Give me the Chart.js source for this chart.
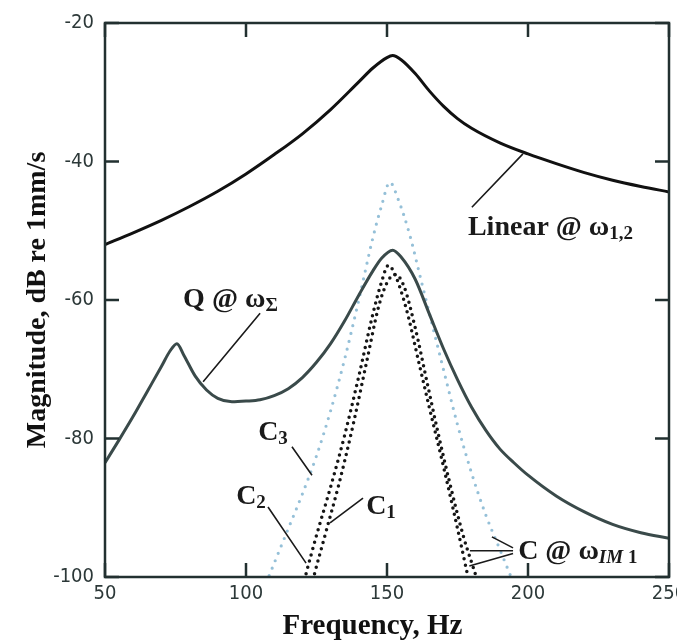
<!DOCTYPE html>
<html>
<head>
<meta charset="utf-8">
<script src="https://cdn.jsdelivr.net/npm/chart.js@4.4.1/dist/chart.umd.min.js"></script>
<style>
  html, body { margin: 0; padding: 0; background: #fff; }
</style>
</head>
<body>
<canvas id="myChart" width="677" height="640"></canvas>
<script>
// axis ticks
var freqTicks = [50, 100, 150, 200, 250];
var dbTicks = [-100, -80, -60, -40, -20];

// Linear @ w1,2
var linFreq = [50, 60, 70, 80, 90, 100, 110, 120, 130, 140, 145, 150, 152, 155, 160, 165, 170, 175, 180, 190, 200, 210, 220, 230, 240, 250];
var linDb   = [-52, -50.3, -48.5, -46.5, -44.3, -41.8, -39, -36, -32.5, -28.5, -26.5, -25, -24.7, -25.3, -27.3, -29.8, -32, -33.8, -35.2, -37.3, -38.9, -40.3, -41.6, -42.7, -43.6, -44.4];

// Q @ wSigma
var qFreq = [50, 55, 60, 65, 70, 73, 75.5, 78, 82, 86, 90, 95, 100, 105, 110, 115, 120, 125, 130, 135, 140, 145, 148, 152, 155, 160, 165, 170, 175, 180, 185, 190, 195, 200, 210, 220, 230, 240, 250];
var qDb   = [-83.5, -80.2, -76.8, -73.2, -69.6, -67.4, -66.3, -68, -71, -73, -74.2, -74.7, -74.6, -74.4, -73.8, -72.8, -71.2, -69, -66.3, -63, -59.3, -55.8, -54, -52.8, -53.8, -57, -62, -67, -71.5, -75.5, -78.8, -81.5, -83.5, -85.3, -88.3, -90.6, -92.4, -93.6, -94.4];

// C3
var c3Freq = [105, 110, 115, 120, 125, 130, 135, 140, 145, 148, 151, 154, 158, 162, 166, 170, 175, 180, 185, 190, 195, 198];
var c3Db   = [-103, -98, -93, -88, -82.5, -76, -68.5, -60, -51, -46.5, -43, -45.5, -50.5, -57, -63.5, -70, -78, -85, -91, -96, -101, -104];

// C2
var c2Freq = [118, 121, 125, 130, 135, 140, 145, 148, 150.5, 153, 157, 161, 165, 170, 175, 179, 182];
var c2Db   = [-105, -100, -94, -87, -79.5, -71, -62, -57.5, -55, -56.5, -61.5, -68.5, -75.5, -84, -93, -100.5, -106];

// C1
var c1Freq = [121, 124, 128, 133, 138, 143, 147, 150, 153, 156, 160, 164, 168, 172, 177, 182, 185];
var c1Db   = [-105, -100, -94, -86.5, -78, -68.5, -61, -57.5, -56.3, -58, -64, -71.5, -79, -86, -94, -100.5, -105];

function pts(xs, ys) {
  return xs.map(function (x, i) { return {x: x, y: ys[i]}; });
}

var serif = '"Liberation Serif", "Times New Roman", serif';
var sans = '"DejaVu Sans Condensed", "DejaVu Sans", sans-serif';
var frameColor = '#223030';

// labels and leader lines, in data units
var notes = [
  {parts: [['Linear @ ω', 0], ['1,2', 1]], x: 178.7, y: -49.6},
  {parts: [['Q @ ω', 0], ['Σ', 1]], x: 77.7, y: -60.0},
  {parts: [['C', 0], ['3', 1]], x: 104.3, y: -79.2},
  {parts: [['C', 0], ['2', 1]], x: 96.5, y: -88.4},
  {parts: [['C', 0], ['1', 1]], x: 142.6, y: -89.9},
  {parts: [['C @ ω', 0], ['IM', 2], [' 1', 1]], x: 196.5, y: -96.4}
];
var leaders = [
  [180.1, -46.6, 198.2, -38.9],
  [105, -61.9, 84.8, -71.8],
  [116.3, -81.2, 123.4, -85.3],
  [107.8, -89.9, 121.3, -98],
  [141.5, -88.6, 129.8, -92.2],
  [194.7, -96.2, 179.4, -96.2],
  [194.7, -96.6, 179.2, -98.4],
  [194.7, -95.8, 187.2, -94.2]
];

var framePlugin = {
  id: 'frame',
  afterDatasetsDraw: function (chart) {
    var ctx = chart.ctx, a = chart.chartArea;
    var xs = chart.scales.x, ys = chart.scales.y;
    ctx.save();
    ctx.strokeStyle = frameColor;
    ctx.lineWidth = 2.5;
    ctx.strokeRect(a.left, a.top, a.right - a.left, a.bottom - a.top);
    // inward ticks on all four sides
    ctx.beginPath();
    xs.ticks.forEach(function (t) {
      var px = xs.getPixelForValue(t.value);
      ctx.moveTo(px, a.bottom); ctx.lineTo(px, a.bottom - 14);
      ctx.moveTo(px, a.top); ctx.lineTo(px, a.top + 14);
    });
    ys.ticks.forEach(function (t) {
      var py = ys.getPixelForValue(t.value);
      ctx.moveTo(a.left, py); ctx.lineTo(a.left + 14, py);
      ctx.moveTo(a.right, py); ctx.lineTo(a.right - 14, py);
    });
    ctx.stroke();

    // leader lines
    ctx.strokeStyle = '#1a1a1a';
    ctx.lineWidth = 1.6;
    ctx.beginPath();
    leaders.forEach(function (l) {
      ctx.moveTo(xs.getPixelForValue(l[0]), ys.getPixelForValue(l[1]));
      ctx.lineTo(xs.getPixelForValue(l[2]), ys.getPixelForValue(l[3]));
    });
    ctx.stroke();

    // labels with subscripts
    ctx.fillStyle = '#1a1a1a';
    ctx.textBaseline = 'middle';
    ctx.textAlign = 'left';
    notes.forEach(function (n) {
      var px = xs.getPixelForValue(n.x), py = ys.getPixelForValue(n.y);
      n.parts.forEach(function (p) {
        if (p[1] === 0) ctx.font = 'bold 28px ' + serif;
        else if (p[1] === 1) ctx.font = 'bold 19px ' + serif;
        else ctx.font = 'italic bold 19px ' + serif;
        var dy = p[1] === 0 ? 0 : 6;
        ctx.fillText(p[0], px, py + dy);
        px += ctx.measureText(p[0]).width;
      });
    });
    ctx.restore();
  }
};

var ctx = document.getElementById('myChart').getContext('2d');
var myChart = new Chart(ctx, {
  type: 'line',
  data: {
    datasets: [
      {
        label: 'Linear',
        data: pts(linFreq, linDb),
        borderColor: '#111111',
        borderWidth: 3
      },
      {
        label: 'Q',
        data: pts(qFreq, qDb),
        borderColor: '#3a4a4a',
        borderWidth: 3
      },
      {
        label: 'C1',
        data: pts(c1Freq, c1Db),
        borderColor: '#151515',
        borderWidth: 3.5,
        borderDash: [0, 6.5],
        borderCapStyle: 'round'
      },
      {
        label: 'C2',
        data: pts(c2Freq, c2Db),
        borderColor: '#151515',
        borderWidth: 3.5,
        borderDash: [0, 6.5],
        borderCapStyle: 'round'
      },
      {
        label: 'C3',
        data: pts(c3Freq, c3Db),
        borderColor: '#95c0d8',
        borderWidth: 3.2,
        borderDash: [0, 8],
        borderCapStyle: 'round'
      }
    ]
  },
  options: {
    responsive: false,
    devicePixelRatio: 1,
    animation: false,
    layout: { padding: { top: 23, right: 8, bottom: 0, left: 0 } },
    elements: {
      point: { radius: 0 },
      line: { cubicInterpolationMode: 'monotone', fill: false }
    },
    plugins: {
      legend: { display: false },
      tooltip: { enabled: false }
    },
    scales: {
      x: {
        type: 'linear',
        min: 50,
        max: 250,
        grid: { display: false, drawTicks: false },
        border: { display: false },
        afterBuildTicks: function (s) { s.ticks = freqTicks.map(function (v) { return {value: v}; }); },
        afterFit: function (s) { s.height = 63; s.paddingLeft = 0; s.paddingRight = 0; },
        ticks: {
          padding: 5,
          color: '#2c3838',
          font: { family: sans, size: 20 },
          maxRotation: 0
        },
        title: {
          display: true,
          // trailing spaces nudge the centred title a little to the left, as in the original
          text: 'Frequency, Hz    ',
          color: '#111',
          font: { family: serif, size: 29, weight: 'bold' },
          padding: { top: 0, bottom: -4 }
        }
      },
      y: {
        type: 'linear',
        min: -100,
        max: -20,
        grid: { display: false, drawTicks: false },
        border: { display: false },
        afterBuildTicks: function (s) { s.ticks = dbTicks.map(function (v) { return {value: v}; }); },
        afterFit: function (s) { s.width = 105; s.paddingTop = 0; s.paddingBottom = 0; },
        ticks: {
          padding: 11,
          color: '#2c3838',
          font: { family: sans, size: 20 }
        },
        title: {
          display: true,
          text: 'Magnitude, dB re 1mm/s',
          color: '#111',
          font: { family: serif, size: 28, weight: 'bold' },
          padding: { top: 21, bottom: 0 }
        }
      }
    }
  },
  plugins: [framePlugin]
});
</script>
</body>
</html>
